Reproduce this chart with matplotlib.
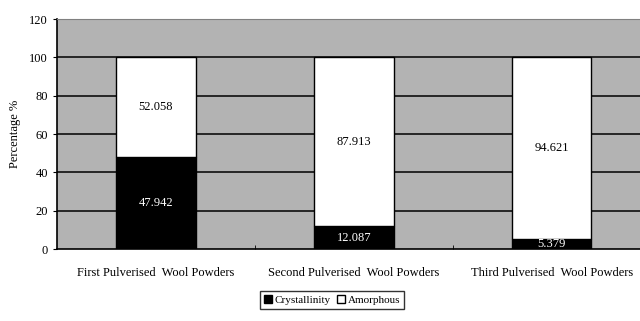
import matplotlib.pyplot as plt
import numpy as np

categories = ["First Pulverised  Wool Powders", "Second Pulverised  Wool Powders",
              "Third Pulverised  Wool Powders"]
crystallinity = [47.942, 12.087, 5.379]
amorphous = [52.058, 87.913, 94.621]
y_ticks = [0, 20, 40, 60, 80, 100, 120]

plt.rcParams['font.family'] = ['Liberation Serif', 'DejaVu Serif']

fig = plt.figure(figsize=(6.4, 3.21), dpi=100)
ax = fig.add_axes([0.089, 0.224, 0.928, 0.7165])
ax.set_facecolor('#b3b3b3')

x = np.arange(len(categories))
w = 0.4
b1 = ax.bar(x, crystallinity, w, color='black', edgecolor='black', linewidth=1,
            label='Crystallinity', zorder=3)
b2 = ax.bar(x, amorphous, w, bottom=crystallinity, color='white', edgecolor='black',
            linewidth=1, label='Amorphous', zorder=3)

for i in range(len(categories)):
    ax.text(x[i], crystallinity[i] / 2, f"{crystallinity[i]:.3f}", ha='center', va='center',
            color='white', fontsize=9, zorder=4)
    ax.text(x[i], crystallinity[i] + amorphous[i] / 2, f"{amorphous[i]:.3f}", ha='center',
            va='center', color='black', fontsize=9, zorder=4)

ax.set_xlim(-0.5, 2.5)
ax.set_ylim(0, 120)
ax.set_yticks(y_ticks)
ax.set_xticks(x)
ax.set_xticklabels(categories, fontsize=9)
ax.set_xticks([0.5, 1.5], minor=True)
ax.tick_params(axis='x', which='major', length=0, pad=13)
ax.tick_params(axis='x', which='minor', length=3, direction='in')
ax.tick_params(axis='y', length=3, labelsize=9, direction='out')
ax.set_ylabel('Percentage %', fontsize=9, labelpad=6)

for yv in y_ticks[1:-1]:
    ax.axhline(yv, color='black', linewidth=1.1, zorder=1)

ax.spines['left'].set_color('black')
ax.spines['bottom'].set_color('black')
ax.spines['left'].set_linewidth(1.2)
ax.spines['bottom'].set_linewidth(1.2)
ax.spines['top'].set_color('#808080')
ax.spines['right'].set_visible(False)

leg = fig.legend(handles=[b1, b2], loc='center', bbox_to_anchor=(0.519, 0.066), ncol=2,
                 fontsize=8, frameon=True, fancybox=False, edgecolor='black',
                 handlelength=0.7, handleheight=0.7, handletextpad=0.25, columnspacing=0.6,
                 borderpad=0.35)
leg.get_frame().set_linewidth(1)

fig.savefig('out.png', dpi=100)
